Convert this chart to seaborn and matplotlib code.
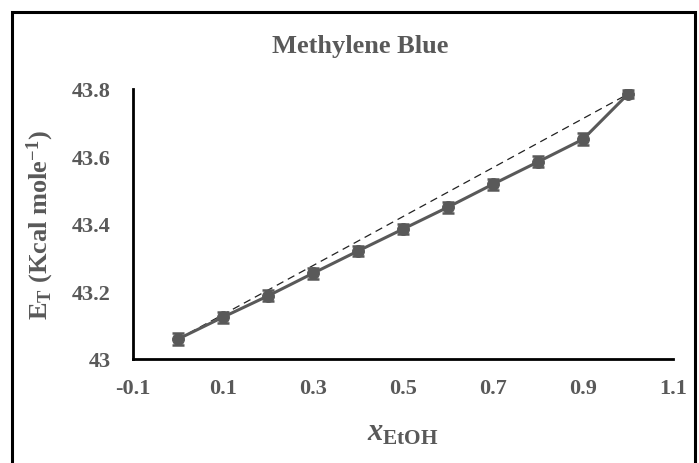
import matplotlib
matplotlib.use("Agg")
import matplotlib.pyplot as plt
import seaborn as sns
import pandas as pd
from matplotlib.patches import Rectangle

# Data
x_etoh = [0.0, 0.1, 0.2, 0.3, 0.4, 0.5, 0.6, 0.7, 0.8, 0.9, 1.0]
e_t = [43.059, 43.124, 43.187, 43.254, 43.320, 43.385, 43.450, 43.518, 43.584, 43.651, 43.785]
err = [0.018, 0.016, 0.016, 0.016, 0.016, 0.016, 0.016, 0.016, 0.016, 0.018, 0.012]
ideal_x = [0.0, 1.0]
ideal_y = [43.059, 43.785]
x_ticks = [-0.1, 0.1, 0.3, 0.5, 0.7, 0.9, 1.1]
x_ticklabels = ["-0.1", "0.1", "0.3", "0.5", "0.7", "0.9", "1.1"]
y_ticks = [43.0, 43.2, 43.4, 43.6, 43.8]
y_ticklabels = ["43", "43.2", "43.4", "43.6", "43.8"]

sns.set_style("white")
plt.rcParams["font.family"] = ["Liberation Serif", "DejaVu Serif"]
plt.rcParams["font.weight"] = "bold"
plt.rcParams["mathtext.fontset"] = "custom"
plt.rcParams["mathtext.rm"] = "Liberation Serif:bold"
plt.rcParams["mathtext.it"] = "Liberation Serif:italic:bold"
plt.rcParams["mathtext.bf"] = "Liberation Serif:bold"

grey = "#595959"
W, H = 699, 464
fig = plt.figure(figsize=(W / 100, H / 100), dpi=100)
ax = fig.add_axes([133 / W, 1 - 360 / H, (673 - 133) / W, (360 - 90) / H])

df = pd.DataFrame({"x": x_etoh, "y": e_t})
dfi = pd.DataFrame({"x": ideal_x, "y": ideal_y})

sns.lineplot(data=dfi, x="x", y="y", ax=ax, color="#222222", linewidth=0.9,
             linestyle=(0, (6, 4)), zorder=3)
ax.errorbar(x_etoh, e_t, yerr=err, fmt="none", ecolor=grey, elinewidth=1.8,
            capsize=4, capthick=1.8, zorder=4)
sns.lineplot(data=df, x="x", y="y", ax=ax, color=grey, linewidth=2.2,
             marker="o", markersize=8.5, markeredgecolor=grey,
             markerfacecolor=grey, zorder=5)

ax.set_xlim(-0.1, 1.1)
ax.set_ylim(43.0, 43.8)
ax.set_xticks(x_ticks)
ax.set_xticklabels(x_ticklabels)
ax.set_yticks(y_ticks)
ax.set_yticklabels(y_ticklabels)

for s in ["top", "right"]:
    ax.spines[s].set_visible(False)
for s in ["left", "bottom"]:
    ax.spines[s].set_color("black")
    ax.spines[s].set_linewidth(2.0)

ax.tick_params(axis="both", direction="in", length=6, width=2, color="black",
               labelsize=16, labelcolor=grey)
ax.tick_params(axis="x", pad=14)
ax.tick_params(axis="y", pad=16)
for lab in ax.get_xticklabels() + ax.get_yticklabels():
    lab.set_fontweight("bold")

ax.set_xlabel(r"$\mathit{x}_{\mathrm{EtOH}}$", fontsize=22, color=grey,
              va="center")
ax.xaxis.set_label_coords(0.5, (360 - 433) / 270)
ax.set_ylabel(r"$\mathrm{E_T}$ (Kcal mole$^{\mathrm{-1}}$)", fontsize=19,
              color=grey, fontweight="bold", va="center")
ax.yaxis.set_label_coords((40 - 133) / 540, 0.5)

fig.text(360 / W, 1 - 47 / H, "Methylene Blue", ha="center", va="center",
         fontsize=19, fontweight="bold", color=grey)

fig.patches.append(Rectangle((12 / W, -0.05), (695 - 12) / W, 1.05 - 13 / H,
                             transform=fig.transFigure, fill=False,
                             edgecolor="black", linewidth=2.2, zorder=10))

fig.savefig("out.png", dpi=100, facecolor="white")
